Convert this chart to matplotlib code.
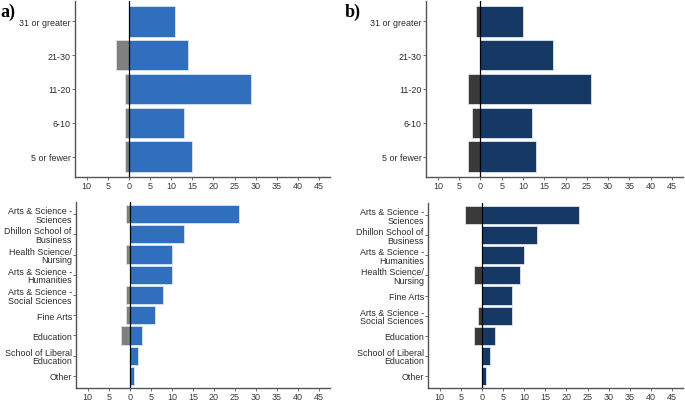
import matplotlib.pyplot as plt
import numpy as np

# Data
class_cats = ["31 or greater", "21-30", "11-20", "6-10", "5 or fewer"]
class_pos_a = [11, 14, 29, 13, 15]
class_neg_a = [0, 3, 1, 1, 1]
class_pos_b = [10, 17, 26, 12, 13]
class_neg_b = [1, 0, 3, 2, 3]

fac_cats_a = ["Arts & Science -\nSciences", "Dhillon School of\nBusiness", "Health Science/\nNursing",
              "Arts & Science -\nHumanities", "Arts & Science -\nSocial Sciences", "Fine Arts",
              "Education", "School of Liberal\nEducation", "Other"]
fac_pos_a = [26, 13, 10, 10, 8, 6, 3, 2, 1]
fac_neg_a = [1, 0, 1, 0, 1, 1, 2, 0, 0]

fac_cats_b = ["Arts & Science -\nSciences", "Dhillon School of\nBusiness", "Arts & Science -\nHumanities",
              "Health Science/\nNursing", "Fine Arts", "Arts & Science -\nSocial Sciences",
              "Education", "School of Liberal\nEducation", "Other"]
fac_pos_b = [23, 13, 10, 9, 7, 7, 3, 2, 1]
fac_neg_b = [4, 0, 0, 2, 0, 1, 2, 0, 0]

xticks = [-10, -5, 0, 5, 10, 15, 20, 25, 30, 35, 40, 45]

plt.rcParams['font.family'] = ['Liberation Sans', 'DejaVu Sans']

W, H = 685, 402
fig = plt.figure(figsize=(W / 100, H / 100), dpi=100)


def panel(rect, cats, pos, neg, col, negcol):
    x0, y0, x1, y1 = rect
    ax = fig.add_axes([x0 / W, 1 - y1 / H, (x1 - x0) / W, (y1 - y0) / H])
    n = len(cats)
    y = np.arange(n)[::-1] + 1
    ax.barh(y, pos, height=0.9, color=col, edgecolor="#d8e4f2", linewidth=0.6, zorder=2)
    ax.barh(y, -np.array(neg), height=0.9, color=negcol, edgecolor="#e0e0e0", linewidth=0.6, zorder=2)
    ax.axvline(0, color="black", lw=0.9, zorder=3)
    ax.set_xlim(-12.8, 47.6)
    ax.set_ylim(0.4, n + 0.6)
    ax.set_yticks(y)
    ax.set_yticklabels(cats, fontsize=6.4, color="#2a2a2a", linespacing=0.95)
    ax.set_xticks(xticks)
    ax.set_xticklabels([str(abs(t)) for t in xticks], fontsize=6.5, color="#3a3a3a")
    for s in ["top", "right"]:
        ax.spines[s].set_visible(False)
    for s in ["left", "bottom"]:
        ax.spines[s].set_color("#555555")
        ax.spines[s].set_linewidth(1.0)
    ax.tick_params(length=2, width=0.6, color="#555555", pad=1)
    return ax


blue, navy = "#2f6fbd", "#163864"
panel((75, 2, 330, 178), class_cats, class_pos_a, class_neg_a, blue, "#808080")
panel((76, 203, 330, 389), fac_cats_a, fac_pos_a, fac_neg_a, blue, "#808080")
panel((426, 2, 683, 178), class_cats, class_pos_b, class_neg_b, navy, "#3a3a3a")
panel((428, 204, 683, 389), fac_cats_b, fac_pos_b, fac_neg_b, navy, "#3a3a3a")

fig.text(0 / W, 1 - 12 / H, "a)", fontsize=13, fontweight="bold", family="Liberation Serif", va="center")
fig.text(345 / W, 1 - 12 / H, "b)", fontsize=13, fontweight="bold", family="Liberation Serif", va="center")

fig.savefig("out.png", dpi=100)
